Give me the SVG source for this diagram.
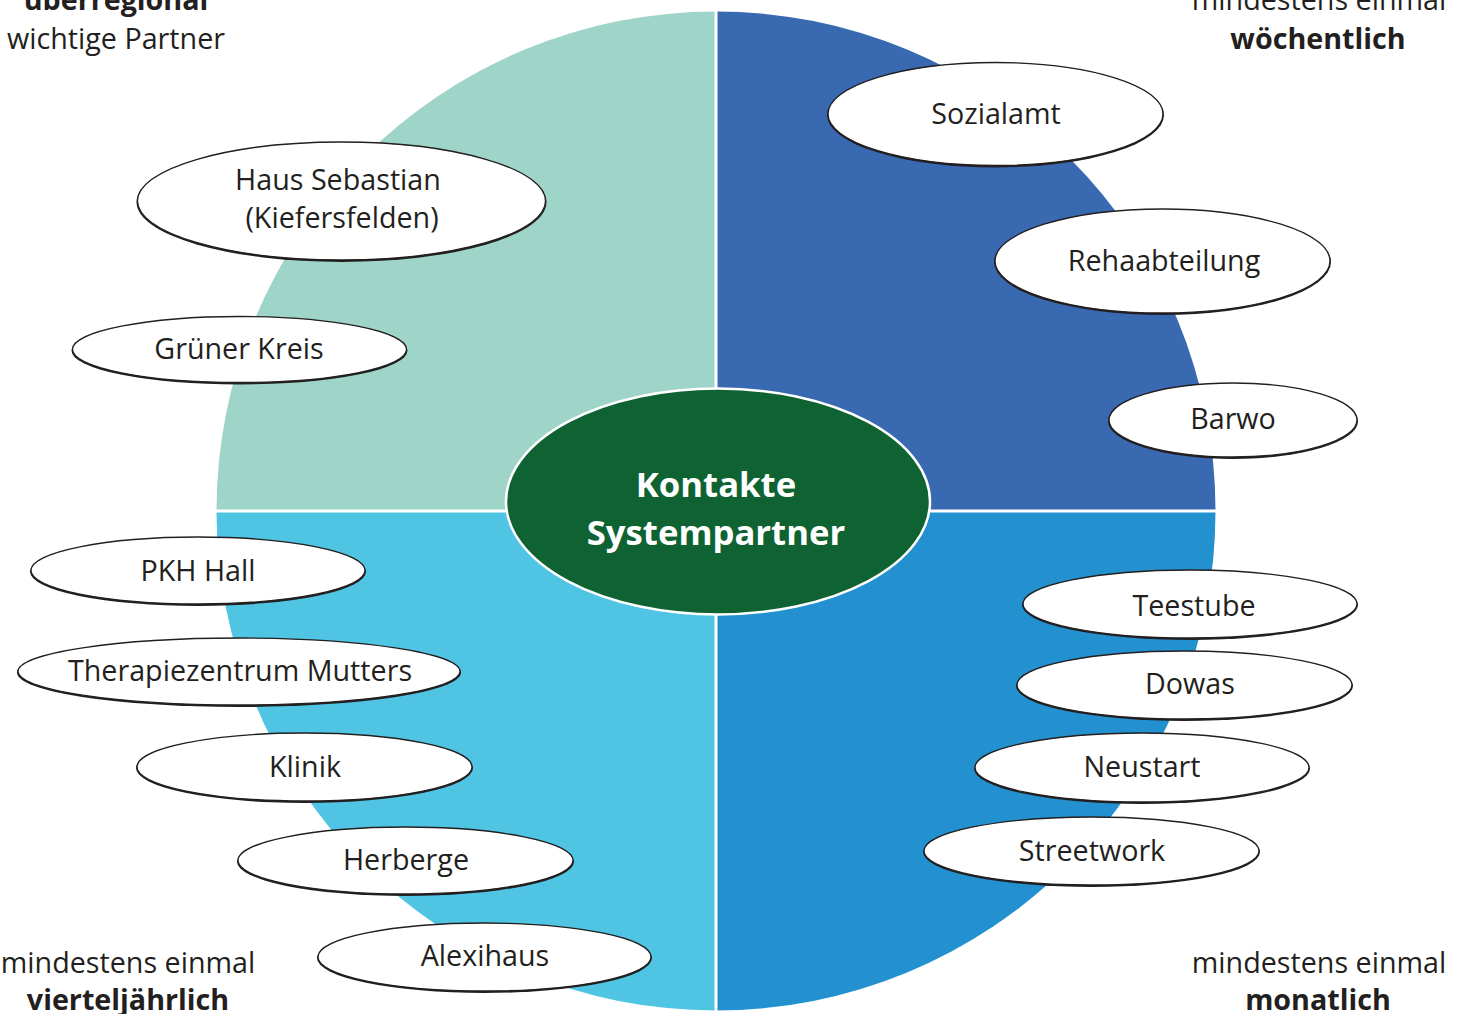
<svg xmlns="http://www.w3.org/2000/svg" width="1463" height="1014" viewBox="0 0 1463 1014">
<style>
  .lbl{font-family:"Open Sans","Noto Sans","Liberation Sans",sans-serif;font-size:28.7px;fill:#231f20;text-anchor:middle}
  .b{font-weight:bold}
  .sh{fill:#231f20}
  .nd{fill:#ffffff;stroke:#231f20;stroke-width:1.3}
  .ctr{font-family:"Open Sans","Noto Sans","Liberation Sans",sans-serif;font-size:34.7px;font-weight:bold;fill:#ffffff;text-anchor:middle}
</style>
<rect width="1463" height="1014" fill="#ffffff"/>
<g id="quadrants">
  <path d="M716,511 L216.5,511 A499.5,499.5 0 0 1 716,11.5 Z" fill="#9ed5c8"/>
  <path d="M716,511 L716,11.5 A499.5,499.5 0 0 1 1215.5,511 Z" fill="#3869b1"/>
  <path d="M716,511 L1215.5,511 A499.5,499.5 0 0 1 716,1010.5 Z" fill="#2391cf"/>
  <path d="M716,511 L716,1010.5 A499.5,499.5 0 0 1 216.5,511 Z" fill="#4fc4e3"/>
  <line x1="716" y1="10" x2="716" y2="1012" stroke="#ffffff" stroke-width="3"/>
  <line x1="215" y1="511" x2="1217" y2="511" stroke="#ffffff" stroke-width="3"/>
</g>
<g id="connectors"></g>
<g id="center">
  <ellipse cx="718" cy="501.5" rx="212" ry="113" fill="#0f6232" stroke="#ffffff" stroke-width="2.5"/>
  <text class="ctr" x="716" y="497">Kontakte</text>
  <text class="ctr" x="716" y="545">Systempartner</text>
</g>
<g id="haus-sebastian">
  <ellipse class="sh" cx="341.5" cy="202" rx="205" ry="60"/>
  <ellipse class="nd" cx="341.5" cy="201" rx="204" ry="59"/>
  <text class="lbl" x="338" y="190">Haus Sebastian</text>
  <text class="lbl" x="342" y="228">(Kiefersfelden)</text>
</g>
<g id="gruener-kreis">
  <ellipse class="sh" cx="239.5" cy="350.5" rx="168" ry="34"/>
  <ellipse class="nd" cx="239.5" cy="349.5" rx="167" ry="33"/>
  <text class="lbl" x="239" y="359">Grüner Kreis</text>
</g>
<g id="pkh-hall">
  <ellipse class="sh" cx="198" cy="571.5" rx="168" ry="34.5"/>
  <ellipse class="nd" cx="198" cy="570.5" rx="167" ry="33.5"/>
  <text class="lbl" x="198" y="581">PKH Hall</text>
</g>
<g id="therapiezentrum-mutters">
  <ellipse class="sh" cx="239" cy="672.5" rx="222" ry="34.5"/>
  <ellipse class="nd" cx="239" cy="671.5" rx="221" ry="33.5"/>
  <text class="lbl" x="240" y="681">Therapiezentrum Mutters</text>
</g>
<g id="klinik">
  <ellipse class="sh" cx="304.5" cy="768" rx="168.5" ry="35"/>
  <ellipse class="nd" cx="304.5" cy="767" rx="167.5" ry="34"/>
  <text class="lbl" x="305" y="777">Klinik</text>
</g>
<g id="herberge">
  <ellipse class="sh" cx="405.5" cy="861.5" rx="168.5" ry="34.5"/>
  <ellipse class="nd" cx="405.5" cy="860.5" rx="167.5" ry="33.5"/>
  <text class="lbl" x="406" y="870">Herberge</text>
</g>
<g id="alexihaus">
  <ellipse class="sh" cx="484.5" cy="958" rx="167.5" ry="35"/>
  <ellipse class="nd" cx="484.5" cy="957" rx="166.5" ry="34"/>
  <text class="lbl" x="485" y="966">Alexihaus</text>
</g>
<g id="sozialamt">
  <ellipse class="sh" cx="995.5" cy="115" rx="168.5" ry="52.5"/>
  <ellipse class="nd" cx="995.5" cy="114" rx="167.5" ry="51.5"/>
  <text class="lbl" x="996" y="124">Sozialamt</text>
</g>
<g id="rehaabteilung">
  <ellipse class="sh" cx="1162.5" cy="262" rx="168.5" ry="53"/>
  <ellipse class="nd" cx="1162.5" cy="261" rx="167.5" ry="52"/>
  <text class="lbl" x="1164" y="271">Rehaabteilung</text>
</g>
<g id="barwo">
  <ellipse class="sh" cx="1233" cy="421" rx="125" ry="38"/>
  <ellipse class="nd" cx="1233" cy="420" rx="124" ry="37"/>
  <text class="lbl" x="1233" y="429">Barwo</text>
</g>
<g id="teestube">
  <ellipse class="sh" cx="1190" cy="605" rx="168" ry="35"/>
  <ellipse class="nd" cx="1190" cy="604" rx="167" ry="34"/>
  <text class="lbl" x="1194" y="616">Teestube</text>
</g>
<g id="dowas">
  <ellipse class="sh" cx="1184.5" cy="686" rx="168.5" ry="35"/>
  <ellipse class="nd" cx="1184.5" cy="685" rx="167.5" ry="34"/>
  <text class="lbl" x="1190" y="694">Dowas</text>
</g>
<g id="neustart">
  <ellipse class="sh" cx="1142" cy="768.5" rx="168" ry="35.5"/>
  <ellipse class="nd" cx="1142" cy="767.5" rx="167" ry="34.5"/>
  <text class="lbl" x="1142" y="777">Neustart</text>
</g>
<g id="streetwork">
  <ellipse class="sh" cx="1091.5" cy="852" rx="168.5" ry="35"/>
  <ellipse class="nd" cx="1091.5" cy="851" rx="167.5" ry="34"/>
  <text class="lbl" x="1092" y="861">Streetwork</text>
</g>
<g id="label-top-left">
  <text class="lbl b" x="116" y="10">überregional</text>
  <text class="lbl" x="116" y="49">wichtige Partner</text>
</g>
<g id="label-top-right">
  <text class="lbl" x="1319" y="10">mindestens einmal</text>
  <text class="lbl b" x="1318" y="49">wöchentlich</text>
</g>
<g id="label-bottom-left">
  <text class="lbl" x="128" y="973">mindestens einmal</text>
  <text class="lbl b" x="128" y="1010">vierteljährlich</text>
</g>
<g id="label-bottom-right">
  <text class="lbl" x="1319" y="973">mindestens einmal</text>
  <text class="lbl b" x="1318" y="1010">monatlich</text>
</g>
</svg>
